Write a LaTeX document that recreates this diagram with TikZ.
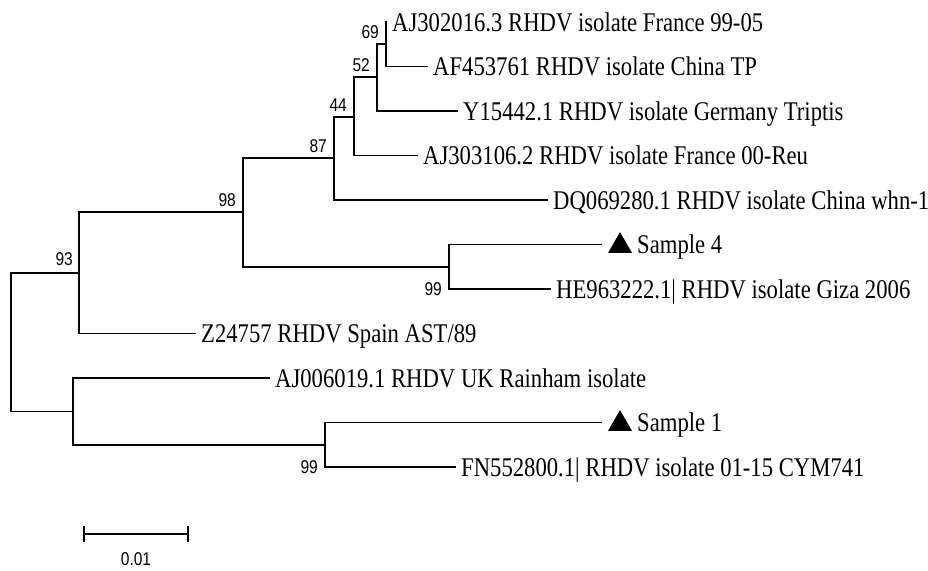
\documentclass[tikz,border=0pt]{standalone}
\usepackage{fontspec}
\setmainfont[FakeStretch=0.84]{Liberation Serif}
\newfontfamily\bootfont[FakeStretch=0.84]{Liberation Sans}
\usetikzlibrary{positioning, shapes.geometric}

\begin{document}
\begin{tikzpicture}[
        x=1pt, y=-1pt,
        branch/.style={line width=1.5pt},
        leaf/.style={anchor=base west, inner sep=0pt, xshift=5pt, yshift=-9pt,
          font=\fontsize{27}{30}\selectfont},
        boot/.style={anchor=base east, inner sep=0pt,
          font=\bootfont\fontsize{18.5}{20}\selectfont},
        sampletri/.style={regular polygon, regular polygon sides=3, fill=black,
          inner sep=0pt, minimum size=27.7pt, xshift=18pt, yshift=-1.5pt},
      ]

      \useasboundingbox (0,0) rectangle (928,570);

      % inner nodes
      \coordinate (root) at (11,342);
      \coordinate (n93)  at (79,273);
      \coordinate (n98)  at (243,212);
      \coordinate (n87)  at (334,158);
      \coordinate (n44)  at (354,117);
      \coordinate (n52)  at (377,77);
      \coordinate (n69)  at (386,44);
      \coordinate (n99a) at (449,267);
      \coordinate (nUK)  at (73,411.5);
      \coordinate (n99b) at (325,445);

      % tips
      \coordinate (tFr99) at (387,22);
      \coordinate (tChTP) at (428,66.5);
      \coordinate (tGer)  at (458,111);
      \coordinate (tFr00) at (418,155.5);
      \coordinate (tWhn)  at (548,200);
      \coordinate (tS4)   at (602,244.5);
      \coordinate (tGiza) at (551,289);
      \coordinate (tSp)   at (196,333.5);
      \coordinate (tUK)   at (270,378);
      \coordinate (tS1)   at (602,422.5);
      \coordinate (tCYM)  at (456,467);

      \draw[branch]
      (root) |- (n93) (root) |- (nUK)
      (n93) |- (n98) (n93) |- (tSp)
      (n98) |- (n87) (n98) |- (n99a)
      (n87) |- (n44) (n87) |- (tWhn)
      (n44) |- (n52) (n44) |- (tFr00)
      (n52) |- (n69) (n52) |- (tGer)
      (n69) |- (tFr99) (n69) |- (tChTP)
      (n99a) |- (tS4) (n99a) |- (tGiza)
      (nUK) |- (tUK) (nUK) |- (n99b)
      (n99b) |- (tS1) (n99b) |- (tCYM);

      \node[leaf] (lFr99) at (tFr99) {AJ302016.3 RHDV isolate France 99-05};
      \node[leaf] (lChTP) at (tChTP) {AF453761 RHDV isolate China TP};
      \node[leaf] (lGer)  at (tGer)  {Y15442.1 RHDV isolate Germany Triptis};
      \node[leaf] (lFr00) at (tFr00) {AJ303106.2 RHDV isolate France 00-Reu};
      \node[leaf] (lWhn)  at (tWhn)  {DQ069280.1 RHDV isolate China whn-1};
      \node[sampletri] (triS4) at (tS4) {};
      \node[leaf, xshift=30pt] (lS4) at (tS4) {Sample 4};
      \node[leaf] (lGiza) at (tGiza) {HE963222.1| RHDV isolate Giza 2006};
      \node[leaf] (lSp)   at (tSp)   {Z24757 RHDV Spain AST/89};
      \node[leaf] (lUK)   at (tUK)   {AJ006019.1 RHDV UK Rainham isolate};
      \node[sampletri] (triS1) at (tS1) {};
      \node[leaf, xshift=30pt] (lS1) at (tS1) {Sample 1};
      \node[leaf] (lCYM)  at (tCYM)  {FN552800.1| RHDV isolate 01-15 CYM741};

      % bootstrap values
      \node[boot, xshift=-7pt, yshift=6pt] (b69) at (n69) {69};
      \node[boot, xshift=-7pt, yshift=6pt] (b52) at (n52) {52};
      \node[boot, xshift=-7pt, yshift=6pt] (b44) at (n44) {44};
      \node[boot, xshift=-7pt, yshift=6pt] (b87) at (n87) {87};
      \node[boot, xshift=-7pt, yshift=6pt] (b98) at (n98) {98};
      \node[boot, xshift=-6pt, yshift=8pt] (b93) at (n93) {93};
      \node[boot, xshift=-7pt, yshift=-6pt] (b99a) at (n99a |- tGiza) {99};
      \node[boot, xshift=-7pt, yshift=-6pt] (b99b) at (n99b |- tCYM) {99};

      % scale bar
      \coordinate (sbL) at (84,534);
      \coordinate (sbR) at (188,534);
      \draw[branch] (sbL) -- (sbR)
      ([yshift=8pt]sbL) -- ([yshift=-8pt]sbL)
      ([yshift=8pt]sbR) -- ([yshift=-8pt]sbR);
      \node[boot, anchor=base] (sbLabel) at (136,565) {0.01};

    \end{tikzpicture}
\end{document}
